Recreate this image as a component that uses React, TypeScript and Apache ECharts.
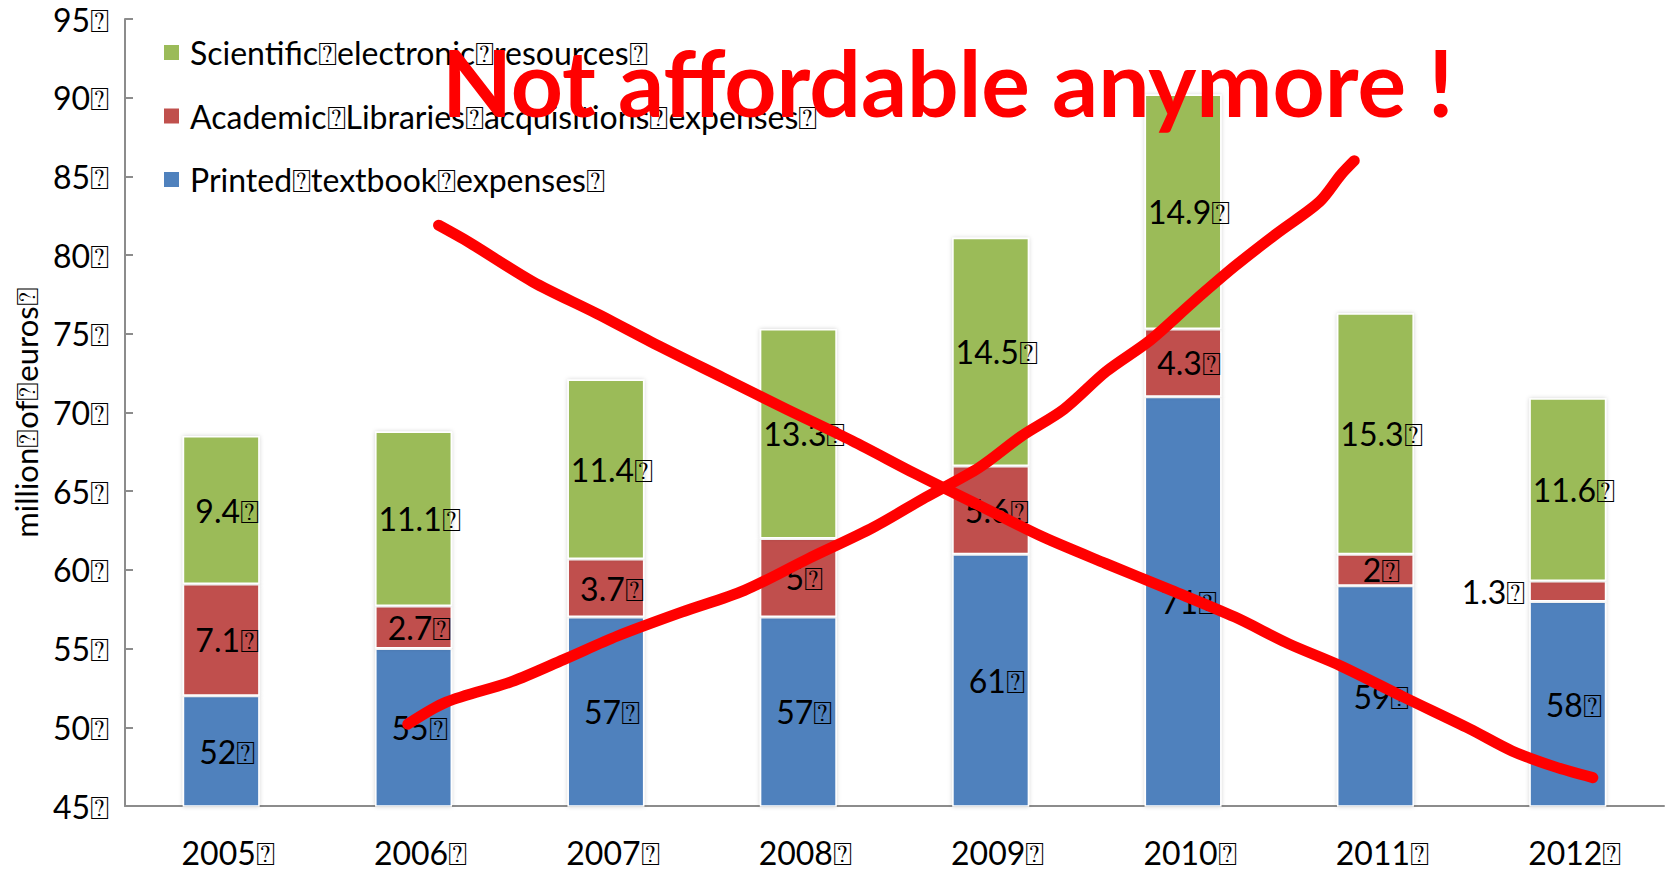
import React, { useEffect, useRef } from "react";
import * as echarts from "echarts";

const BOX = "\u2370";
const years = ["2005", "2006", "2007", "2008", "2009", "2010", "2011", "2012"];
const printed = [52, 55, 57, 57, 61, 71, 59, 58];
const academic = [7.1, 2.7, 3.7, 5, 5.6, 4.3, 2, 1.3];
const scientific = [9.4, 11.1, 11.4, 13.3, 14.5, 14.9, 15.3, 11.6];
const seriesNames = [
  "Scientific electronic resources",
  "Academic Libraries acquisitions expenses",
  "Printed textbook expenses",
];
const yTitle = "million of euros";
const headline = "Not affordable anymore !";
const yTicks = { min: 45, max: 95, step: 5 };

// hand-drawn annotation strokes, [category position, value]
const risingStroke = [
  [1.47, 50.2], [1.67, 51.6], [2.01, 52.9], [2.28, 54.3], [2.56, 55.8], [2.89, 57.3],
  [3.22, 58.7], [3.55, 60.7], [3.89, 62.7], [4.16, 64.6], [4.44, 66.5], [4.66, 68.5],
  [4.88, 70.2], [5.1, 72.6], [5.33, 74.6], [5.55, 77.0], [5.77, 79.3], [5.99, 81.4],
  [6.21, 83.4], [6.32, 85.1], [6.39, 86.0],
];
const fallingStroke = [
  [1.63, 81.9], [1.79, 80.8], [2.12, 78.3], [2.45, 76.3], [2.78, 74.2], [3.11, 72.2],
  [3.44, 70.2], [3.78, 68.2], [4.11, 66.1], [4.44, 64.1], [4.77, 62.1], [5.1, 60.4],
  [5.44, 58.7], [5.77, 57.0], [6.05, 55.3], [6.32, 53.9], [6.65, 51.9], [6.99, 49.9],
  [7.21, 48.5], [7.43, 47.5], [7.63, 46.8],
];

const withBox = (s: string) => s.split(" ").join(BOX) + BOX;
const FONT = "Lato";
const COLORS = { scientific: "#9BBB59", academic: "#C0504D", printed: "#4F81BD" };

export default function App() {
  const ref = useRef<HTMLDivElement>(null);
  useEffect(() => {
    if (!ref.current) return;
    const chart = echarts.init(ref.current, undefined, { renderer: "svg" });
    const labelStyle = {
      show: true,
      position: "inside",
      offset: [6, 0],
      color: "#000",
      fontFamily: FONT,
      fontSize: 32,
      formatter: (p: any) => p.value + BOX,
    };
    const barItem = (color: string) => ({
      color,
      borderColor: "#ffffff",
      borderWidth: 1.5,
      shadowColor: "rgba(0,0,0,0.18)",
      shadowBlur: 4,
    });
    const strokeStyle = { color: "#ff0000", width: 11, cap: "round", join: "round" };
    chart.setOption({
      animation: false,
      backgroundColor: "#ffffff",
      title: {
        text: headline,
        left: 437,
        top: 31,
        textStyle: { color: "#ff0000", fontFamily: FONT, fontWeight: "bold", fontSize: 91 },
      },
      legend: {
        orient: "vertical",
        left: 162,
        top: 34,
        padding: 0,
        itemWidth: 17,
        itemHeight: 17,
        itemGap: 26.5,
        icon: "rect",
        data: [withBox(seriesNames[0]), withBox(seriesNames[1]), withBox(seriesNames[2])],
        textStyle: { fontFamily: FONT, fontSize: 32, color: "#000", lineHeight: 37, padding: [0, 0, 0, 5] },
      },
      grid: { left: 125, right: 5, top: 19, bottom: 66, containLabel: false },
      xAxis: [
        {
          type: "category",
          data: years,
          axisLine: { lineStyle: { color: "#8c8c8c", width: 2 } },
          axisTick: { show: false },
          axisLabel: {
            margin: 30,
            color: "#000",
            fontFamily: FONT,
            fontSize: 32,
            padding: [0, 0, 0, 14],
            formatter: (v: string) => v + BOX,
          },
        },
        { type: "value", min: 0, max: years.length, show: false },
      ],
      yAxis: {
        type: "value",
        min: yTicks.min,
        max: yTicks.max,
        interval: yTicks.step,
        name: withBox(yTitle),
        nameLocation: "middle",
        nameGap: 82,
        nameTextStyle: { fontFamily: FONT, fontSize: 31, color: "#000" },
        splitLine: { show: false },
        axisLine: { show: true, lineStyle: { color: "#8c8c8c", width: 2 } },
        axisTick: { show: true, inside: true, length: 8, lineStyle: { color: "#8c8c8c", width: 2 } },
        axisLabel: {
          margin: 16,
          color: "#000",
          fontFamily: FONT,
          fontSize: 32,
          formatter: (v: number) => v + BOX,
        },
      },
      series: [
        {
          name: withBox(seriesNames[2]),
          type: "bar",
          stack: "total",
          barWidth: "40%",
          data: printed,
          itemStyle: barItem(COLORS.printed),
          label: labelStyle,
        },
        {
          name: withBox(seriesNames[1]),
          type: "bar",
          stack: "total",
          data: academic.map((v, i) =>
            i === academic.length - 1
              ? { value: v, label: { position: "left", distance: 4, offset: [0, 0] } }
              : v
          ),
          itemStyle: barItem(COLORS.academic),
          label: labelStyle,
        },
        {
          name: withBox(seriesNames[0]),
          type: "bar",
          stack: "total",
          data: scientific,
          itemStyle: barItem(COLORS.scientific),
          label: labelStyle,
        },
        {
          type: "line",
          xAxisIndex: 1,
          data: risingStroke,
          symbol: "none",
          smooth: 0.3,
          z: 10,
          silent: true,
          lineStyle: strokeStyle,
        },
        {
          type: "line",
          xAxisIndex: 1,
          data: fallingStroke,
          symbol: "none",
          smooth: 0.3,
          z: 10,
          silent: true,
          lineStyle: strokeStyle,
        },
      ],
    });
    return () => chart.dispose();
  }, []);
  return (
    <div
      ref={ref}
      style={{ position: "fixed", left: 0, top: 0, width: 1669, height: 872 }}
    />
  );
}
